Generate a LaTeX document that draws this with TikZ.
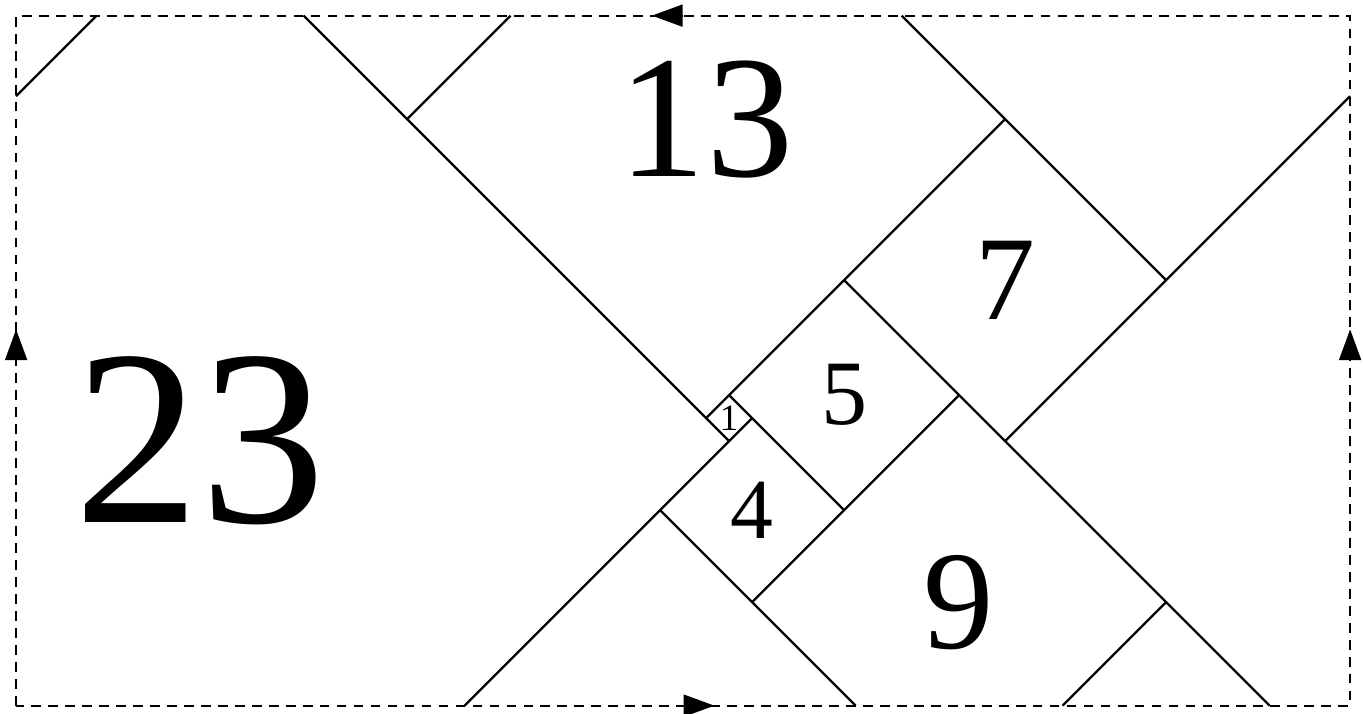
\documentclass[tikz,border=0pt]{standalone}
\usepackage{fontspec}
\setmainfont{Liberation Serif}
\usetikzlibrary{arrows.meta}

\newcommand{\sqsize}[1]{\fontsize{#1}{#1}\selectfont}

\begin{document}
\begin{tikzpicture}[x=1cm, y=1cm, line width=1.4pt,
  frame/.style={line width=1.3pt, dash pattern=on 6pt off 4.5pt},
  glue/.style={-{Triangle[length=19pt, width=13.5pt]}},
  num/.style={inner sep=0pt}]
  \useasboundingbox (-0.35,-0.18) rectangle (29.28,15.34);

  % boundary with gluing arrows
  \draw[frame] (0,0) rectangle (29,15);
  \draw[glue] (14.5,15) -- ++(-0.68,0);
  \draw[glue] (14.5,0) -- ++(0.68,0);
  \draw[glue] (0,7.5) -- ++(0,0.68);
  \draw[glue] (29,7.5) -- ++(0,0.68);

  % square edges
  \draw (0,13.25) -- (1.75,15);
  \draw (6.25,15) -- (15.5,5.75);
  \draw (8.5,12.75) -- (10.75,15);
  \draw (19.25,15) -- (25,9.25);
  \draw (15,6.25) -- (21.5,12.75);
  \draw (18,9.25) -- (27.25,0);
  \draw (15.5,6.75) -- (18,4.25);
  \draw (14,4.25) -- (18.25,0);
  \draw (9.75,0) -- (16,6.25);
  \draw (16,2.25) -- (20.5,6.75);
  \draw (21.5,5.75) -- (29,13.25);
  \draw (22.75,0) -- (25,2.25);

  % side lengths
  \node[num, font=\sqsize{155}] (s23) at (4,5.75) {23};
  \node[num, font=\sqsize{108}] (s13) at (15,12.75) {13};
  \node[num, font=\sqsize{87}] (s9) at (20.5,2.25) {9};
  \node[num, font=\sqsize{74}] (s7) at (21.5,9.25) {7};
  \node[num, font=\sqsize{57}] (s5) at (18,6.75) {5};
  \node[num, font=\sqsize{53}] (s4) at (16,4.25) {4};
  \node[num, font=\sqsize{23}] (s1) at (15.5,6.25) {1};
\end{tikzpicture}
\end{document}
